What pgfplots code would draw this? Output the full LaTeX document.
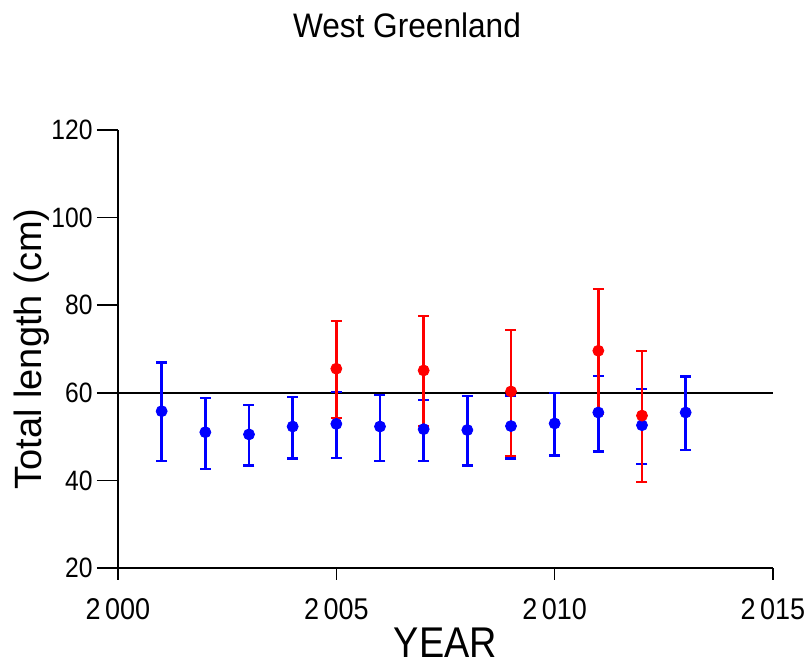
\documentclass[border=0pt]{standalone}
\usepackage{fontspec}
\setmainfont{Liberation Sans}
\usepackage{graphicx}
\usepackage{pgfplots}
\usepackage{pgfplotstable}
\pgfplotsset{compat=1.18}
\pgfplotstableread{
x y ep em
2001 55.8 11.1 11.4
2002 51.0 7.9 8.4
2003 50.5 6.7 7.1
2004 52.3 6.8 7.3
2005 52.9 7.3 7.7
2006 52.3 7.2 7.9
2007 51.7 6.7 7.3
2008 51.5 7.8 8.1
2009 52.4 7.0 7.4
2010 53.0 7.0 7.3
2011 55.5 8.4 8.9
2012 52.6 8.3 8.8
2013 55.5 8.2 8.6
}\bluedata
\pgfplotstableread{
x y ep em
2005 65.5 10.9 11.3
2007 65.1 12.5 12.7
2009 60.3 14.0 14.7
2011 69.6 14.1 14.4
2012 54.8 14.8 15.2
}\reddata
\newcommand{\xl}[1]{\scalebox{0.9}[1]{#1}}
\newcommand{\yl}[1]{\scalebox{0.88}[1]{#1}}
\begin{document}
\begin{tikzpicture}
\useasboundingbox (-59pt,-48pt) rectangle (346pt,284pt);
\begin{axis}[
  at={(0,0)}, anchor=south west,
  scale only axis, width=327.5pt, height=219pt,
  xmin=2000, xmax=2015, ymin=20, ymax=120,
  clip=false,
  axis x line*=bottom, axis y line*=left,
  axis line style={line width=0.8pt},
  tick style={line width=0.8pt, black},
  tick align=outside,
  major tick length=10.5pt,
  xtick={2000,2005,2010,2015},
  xticklabels={\xl{2\,000},\xl{2\,005},\xl{2\,010},\xl{2\,015}},
  ytick={20,40,60,80,100,120},
  yticklabels={\yl{20},\yl{40},\yl{60},\yl{80},\yl{100},\yl{120}},
  xtick style={/pgfplots/major tick length=6pt},
  xticklabel style={font=\fontsize{15}{17}\selectfont, inner sep=0pt, yshift=-4.5pt},
  yticklabel style={font=\fontsize{14}{16}\selectfont, inner sep=0pt, xshift=-2pt},
  minor tick num=0,
  xlabel={\scalebox{0.88}[1]{YEAR}},
  xlabel style={font=\fontsize{21.5}{23}\selectfont, inner sep=0pt, at={(axis description cs:0.5,-0.1700)}, anchor=center},
  ylabel={Total length (cm)},
  ylabel style={font=\fontsize{19}{21}\selectfont, at={(axis description cs:-0.1313,0.5)}, anchor=center},
]
\addplot[black, line width=1.2pt, forget plot] coordinates {(2000,60) (2015,60)};
\addplot[blue, only marks, mark=*, mark size=2.75pt,
  error bars/.cd, y dir=both, y explicit,
  error bar style={line width=1.2pt, blue},
  error mark options={rotate=90, mark size=2.75pt, line width=1.1pt, blue}]
  table[x=x, y=y, y error plus=ep, y error minus=em] {\bluedata};
\addplot[red, only marks, mark=*, mark size=2.75pt,
  error bars/.cd, y dir=both, y explicit,
  error bar style={line width=1.2pt, red},
  error mark options={rotate=90, mark size=2.75pt, line width=1.1pt, red}]
  table[x=x, y=y, y error plus=ep, y error minus=em] {\reddata};
\draw[line width=0.8pt] (axis cs:2000,20) -- ++(0pt,-2pt);
\node[font=\fontsize{17}{19}\selectfont] at (axis description cs:0.4412,1.2397) {\scalebox{0.93}[1]{West Greenland}};
\end{axis}
\end{tikzpicture}
\end{document}
